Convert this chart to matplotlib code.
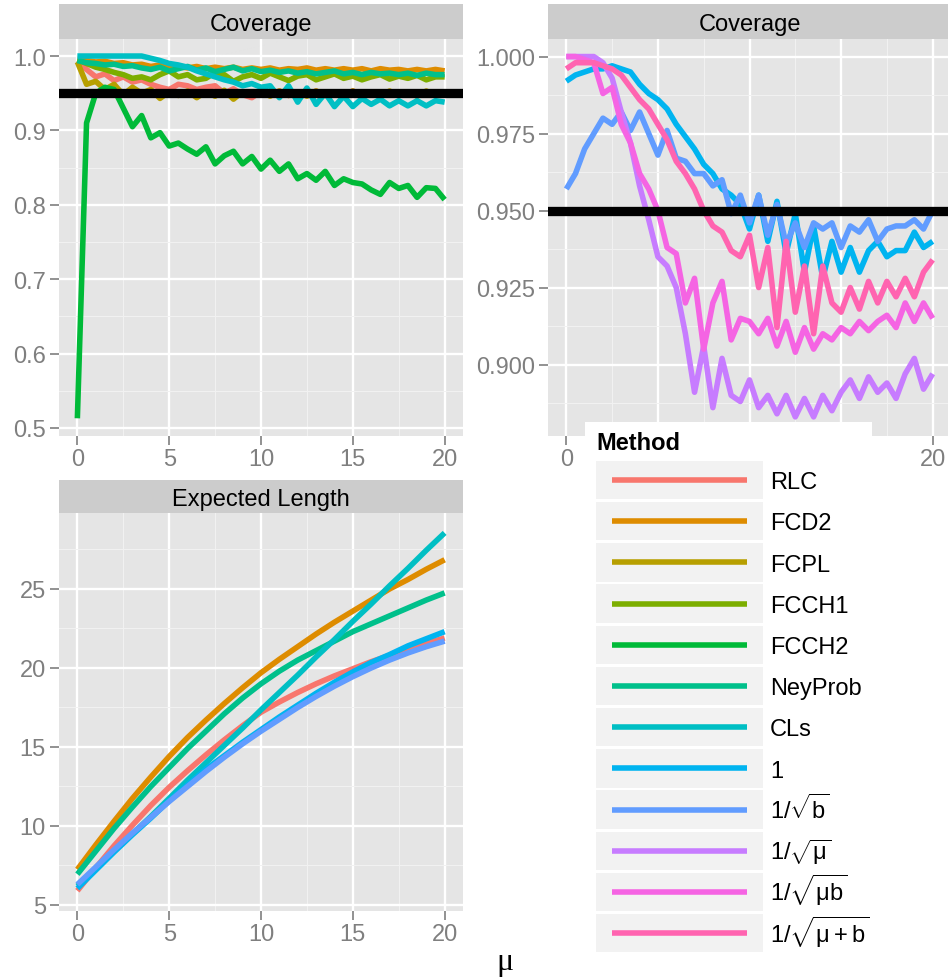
import numpy as np
import matplotlib
matplotlib.use("Agg")
import matplotlib.pyplot as plt
from matplotlib.ticker import MultipleLocator, FormatStrFormatter, FixedLocator, FixedFormatter
from matplotlib.patches import Rectangle
from matplotlib.lines import Line2D

plt.rcParams["font.family"] = ["Liberation Sans", "DejaVu Sans"]
plt.rcParams["mathtext.fontset"] = "custom"
plt.rcParams["mathtext.rm"] = "Liberation Sans"
plt.rcParams["mathtext.it"] = "Liberation Sans"
plt.rcParams["mathtext.bf"] = "Liberation Sans:bold"

# ---------------- data ----------------
methods = ["RLC", "FCD2", "FCPL", "FCCH1", "FCCH2", "NeyProb", "CLs",
           "1", "1/sqrt(b)", "1/sqrt(mu)", "1/sqrt(mu b)", "1/sqrt(mu+b)"]
method_labels = ["RLC", "FCD2", "FCPL", "FCCH1", "FCCH2", "NeyProb", "CLs", "1",
                 r"$1/\sqrt{\mathrm{b}}$", r"$1/\sqrt{\mu}$",
                 r"$1/\sqrt{\mu\mathrm{b}}$", r"$1/\sqrt{\mu+\mathrm{b}}$"]
colors = ["#F8766D", "#DE8C00", "#B79F00", "#7CAE00", "#00BA38", "#00C08B",
          "#00BFC4", "#00B4F0", "#619CFF", "#C77CFF", "#F564E3", "#FF64B0"]

mu_cov = np.linspace(0, 20, 41)
mu_len = np.linspace(0, 20, 21)
x_ticks = [0, 5, 10, 15, 20]

cov_RLC = [0.993, 0.982, 0.972, 0.976, 0.967, 0.972, 0.965, 0.968, 0.962, 0.958,
           0.955, 0.962, 0.960, 0.955, 0.958, 0.960, 0.950, 0.956, 0.948, 0.944,
           0.952, 0.948, 0.953, 0.947, 0.952, 0.948, 0.953, 0.947, 0.951, 0.948,
           0.953, 0.947, 0.951, 0.948, 0.952, 0.947, 0.951, 0.948, 0.952, 0.948,
           0.950]
cov_FCD2 = [0.996, 0.994, 0.992, 0.993, 0.990, 0.991, 0.988, 0.989, 0.986, 0.988,
            0.985, 0.986, 0.984, 0.986, 0.983, 0.985, 0.983, 0.985, 0.982, 0.984,
            0.982, 0.984, 0.981, 0.983, 0.982, 0.984, 0.981, 0.983, 0.981, 0.983,
            0.981, 0.983, 0.980, 0.983, 0.981, 0.982, 0.980, 0.982, 0.980, 0.982,
            0.980]
cov_FCPL = [0.992, 0.962, 0.966, 0.955, 0.962, 0.948, 0.958, 0.950, 0.955, 0.943,
            0.952, 0.947, 0.953, 0.944, 0.952, 0.946, 0.954, 0.942, 0.952, 0.948,
            0.953, 0.946, 0.953, 0.947, 0.952, 0.946, 0.953, 0.947, 0.952, 0.946,
            0.953, 0.947, 0.952, 0.946, 0.953, 0.947, 0.952, 0.946, 0.953, 0.947,
            0.950]
cov_FCCH1 = [0.995, 0.990, 0.985, 0.982, 0.978, 0.975, 0.970, 0.972, 0.968, 0.975,
             0.980, 0.972, 0.975, 0.968, 0.970, 0.978, 0.975, 0.966, 0.972, 0.975,
             0.970, 0.977, 0.972, 0.967, 0.973, 0.975, 0.968, 0.972, 0.976, 0.970,
             0.973, 0.968, 0.972, 0.975, 0.969, 0.973, 0.970, 0.974, 0.968, 0.972,
             0.972]
cov_FCCH2 = [0.513, 0.910, 0.950, 0.958, 0.955, 0.930, 0.905, 0.920, 0.890, 0.897,
             0.879, 0.883, 0.875, 0.868, 0.878, 0.855, 0.866, 0.872, 0.855, 0.865,
             0.848, 0.860, 0.845, 0.855, 0.835, 0.842, 0.833, 0.845, 0.826, 0.835,
             0.830, 0.828, 0.820, 0.814, 0.830, 0.822, 0.826, 0.810, 0.823, 0.822,
             0.807]
cov_NeyProb = [0.994, 0.991, 0.990, 0.988, 0.989, 0.986, 0.987, 0.984, 0.982, 0.985,
               0.980, 0.983, 0.986, 0.981, 0.984, 0.979, 0.982, 0.985, 0.980, 0.983,
               0.979, 0.981, 0.978, 0.980, 0.977, 0.979, 0.976, 0.978, 0.980, 0.976,
               0.978, 0.975, 0.978, 0.976, 0.977, 0.975, 0.977, 0.974, 0.977, 0.975,
               0.975]
cov_CLs = [1.000, 1.000, 1.000, 1.000, 1.000, 1.000, 1.000, 1.000, 0.997, 0.994,
           0.990, 0.988, 0.985, 0.980, 0.976, 0.972, 0.968, 0.965, 0.960, 0.963,
           0.958, 0.960, 0.944, 0.960, 0.938, 0.957, 0.935, 0.950, 0.932, 0.946,
           0.932, 0.943, 0.935, 0.942, 0.933, 0.940, 0.933, 0.940, 0.933, 0.940,
           0.938]
cov_one = [0.992, 0.994, 0.995, 0.996, 0.996, 0.997, 0.996, 0.995, 0.991, 0.988,
           0.986, 0.983, 0.978, 0.974, 0.970, 0.965, 0.962, 0.957, 0.955, 0.952,
           0.944, 0.955, 0.940, 0.953, 0.936, 0.949, 0.930, 0.945, 0.928, 0.940,
           0.930, 0.938, 0.930, 0.937, 0.940, 0.935, 0.937, 0.937, 0.943, 0.938,
           0.940]
cov_isb = [0.957, 0.962, 0.970, 0.975, 0.980, 0.978, 0.982, 0.976, 0.982, 0.975,
           0.968, 0.976, 0.967, 0.966, 0.962, 0.962, 0.958, 0.960, 0.949, 0.955,
           0.946, 0.955, 0.942, 0.952, 0.939, 0.946, 0.938, 0.946, 0.944, 0.946,
           0.938, 0.945, 0.943, 0.947, 0.940, 0.944, 0.945, 0.945, 0.947, 0.944,
           0.950]
cov_ism = [1.000, 1.000, 1.000, 1.000, 0.998, 0.993, 0.982, 0.972, 0.958, 0.947,
           0.935, 0.932, 0.925, 0.910, 0.891, 0.906, 0.886, 0.902, 0.890, 0.888,
           0.895, 0.886, 0.890, 0.884, 0.890, 0.883, 0.889, 0.883, 0.890, 0.885,
           0.891, 0.895, 0.889, 0.896, 0.891, 0.894, 0.889, 0.897, 0.902, 0.892,
           0.897]
cov_ismb = [1.000, 1.000, 0.999, 0.998, 0.988, 0.990, 0.978, 0.972, 0.962, 0.957,
            0.950, 0.938, 0.936, 0.920, 0.928, 0.905, 0.920, 0.927, 0.908, 0.915,
            0.914, 0.910, 0.915, 0.906, 0.914, 0.904, 0.912, 0.905, 0.910, 0.908,
            0.912, 0.910, 0.914, 0.911, 0.914, 0.916, 0.912, 0.920, 0.914, 0.920,
            0.915]
cov_ismpb = [0.996, 0.998, 0.998, 0.998, 0.997, 0.996, 0.994, 0.990, 0.986, 0.983,
             0.978, 0.973, 0.966, 0.962, 0.957, 0.950, 0.945, 0.943, 0.937, 0.935,
             0.942, 0.925, 0.938, 0.912, 0.940, 0.917, 0.932, 0.910, 0.932, 0.920,
             0.917, 0.925, 0.918, 0.927, 0.920, 0.927, 0.922, 0.928, 0.922, 0.930,
             0.934]

len_RLC = [5.9, 7.35, 8.75, 10.05, 11.3, 12.45, 13.5, 14.5, 15.45, 16.35, 17.2,
           17.85, 18.45, 19.0, 19.5, 19.95, 20.4, 20.8, 21.2, 21.55, 21.9]
len_FCD2 = [7.25, 8.8, 10.3, 11.75, 13.1, 14.4, 15.6, 16.7, 17.75, 18.75, 19.7,
            20.55, 21.35, 22.15, 22.9, 23.6, 24.3, 25.0, 25.6, 26.25, 26.85]
len_NeyProb = [6.95, 8.4, 9.85, 11.2, 12.5, 13.7, 14.9, 16.0, 17.1, 18.1, 19.0,
               19.8, 20.5, 21.1, 21.7, 22.3, 22.8, 23.3, 23.8, 24.3, 24.75]
len_CLs = [6.2, 7.3, 8.4, 9.5, 10.6, 11.75, 12.9, 14.0, 15.1, 16.2, 17.35,
           18.45, 19.55, 20.7, 21.8, 22.95, 24.05, 25.2, 26.3, 27.45, 28.55]
len_one = [6.05, 7.2, 8.35, 9.45, 10.5, 11.6, 12.6, 13.6, 14.45, 15.3, 16.1,
           16.9, 17.65, 18.4, 19.1, 19.75, 20.35, 20.85, 21.4, 21.85, 22.3]
len_isb = [6.3, 7.4, 8.5, 9.55, 10.55, 11.55, 12.5, 13.45, 14.35, 15.2, 16.0,
           16.75, 17.5, 18.2, 18.85, 19.45, 20.0, 20.5, 20.95, 21.35, 21.7]

target = 0.95

cov_left = {"RLC": cov_RLC, "FCD2": cov_FCD2, "FCPL": cov_FCPL, "FCCH1": cov_FCCH1,
            "FCCH2": cov_FCCH2, "NeyProb": cov_NeyProb, "CLs": cov_CLs}
cov_right = {"1": cov_one, "1/sqrt(b)": cov_isb, "1/sqrt(mu)": cov_ism,
             "1/sqrt(mu b)": cov_ismb, "1/sqrt(mu+b)": cov_ismpb}
lengths = {"RLC": len_RLC, "FCD2": len_FCD2, "NeyProb": len_NeyProb,
           "CLs": len_CLs, "1": len_one, "1/sqrt(b)": len_isb}
col = dict(zip(methods, colors))

# ---------------- layout ----------------
W, H = 948, 979
fig = plt.figure(figsize=(W / 100, H / 100), dpi=100)
fig.patch.set_facecolor("white")
GREY = "#7F7F7F"
LW = 4.0
FS = 17


def box(x0, y0, x1, y1):
    return [x0 / W, 1 - y1 / H, (x1 - x0) / W, (y1 - y0) / H]


def panel(rect, ylim, ymaj, ymin, yfmt):
    ax = fig.add_axes(box(*rect))
    ax.set_facecolor("#E5E5E5")
    for s in ax.spines.values():
        s.set_visible(False)
    ax.set_xlim(-1, 21)
    ax.set_ylim(*ylim)
    ax.xaxis.set_major_locator(FixedLocator(x_ticks))
    ax.xaxis.set_minor_locator(MultipleLocator(2.5))
    ax.yaxis.set_major_locator(MultipleLocator(ymaj))
    ax.yaxis.set_minor_locator(MultipleLocator(ymin))
    ax.yaxis.set_major_formatter(FormatStrFormatter(yfmt))
    ax.set_axisbelow(True)
    ax.grid(which="major", color="white", lw=1.7)
    ax.grid(which="minor", color="#F2F2F2", lw=0.7)
    ax.tick_params(which="major", direction="out", length=6.5, width=1.2,
                   color=GREY, labelcolor=GREY, labelsize=FS)
    ax.tick_params(axis="x", pad=2.5)
    ax.tick_params(axis="y", pad=3)
    ax.tick_params(which="minor", length=0)
    return ax


def strip(rect, text):
    sax = fig.add_axes(box(*rect))
    sax.set_facecolor("#CCCCCC")
    sax.set_xticks([])
    sax.set_yticks([])
    for s in sax.spines.values():
        s.set_visible(False)
    sax.text(0.5, 0.25, text, ha="center", va="baseline", fontsize=FS,
             color="black", transform=sax.transAxes)


# top-left coverage
ax1 = panel((59, 40, 463, 437), (0.4892, 1.0229), 0.1, 0.05, "%.1f")
strip((59, 5, 463, 40), "Coverage")
for m, v in cov_left.items():
    ax1.plot(mu_cov, v, color=col[m], lw=LW, solid_joinstyle="round",
             solid_capstyle="butt")
ax1.axhline(target, color="black", lw=6.7)

# top-right coverage (labels 5, 10, 15 are hidden under the legend box)
ax2 = panel((548, 40, 951, 437), (0.8768, 1.0057), 0.025, 0.0125, "%.3f")
ax2.xaxis.set_major_formatter(FixedFormatter(["0", "", "", "", "20"]))
strip((548, 5, 951, 40), "Coverage")
for m, v in cov_right.items():
    ax2.plot(mu_cov, v, color=col[m], lw=LW, solid_joinstyle="round",
             solid_capstyle="butt")
ax2.axhline(target, color="black", lw=6.7)

# bottom-left expected length
ax3 = panel((59, 514, 463, 912), (4.62, 29.81), 5, 2.5, "%d")
strip((59, 481, 463, 514), "Expected Length")
for m, v in lengths.items():
    ax3.plot(mu_len, v, color=col[m], lw=LW, solid_joinstyle="round",
             solid_capstyle="butt")

fig.text(505 / W, 1 - 970 / H, "\u03bc", ha="center", va="baseline",
         fontsize=23, family=["Liberation Serif", "DejaVu Serif"])

# legend (drawn in its own axes, in pixel units)
lx0, ly0, lx1, ly1 = 585, 423, 872, 975
lax = fig.add_axes(box(lx0, ly0, lx1, ly1))
lax.set_zorder(10)
lax.set_facecolor("white")
lax.set_xlim(lx0, lx1)
lax.set_ylim(ly1, ly0)
lax.set_xticks([])
lax.set_yticks([])
for s in lax.spines.values():
    s.set_visible(False)
lax.text(596, 450, "Method", fontsize=FS, fontweight="bold", va="baseline",
         ha="left")
pitch = 41.2
for i, (m, lab) in enumerate(zip(methods, method_labels)):
    yc = 481 + i * pitch
    lax.add_patch(Rectangle((596, yc - 19.2), 167, 38.4, facecolor="#F2F2F2",
                            edgecolor="none"))
    lax.add_line(Line2D([612, 747], [yc, yc], color=col[m], lw=LW,
                        solid_capstyle="butt"))
    lax.text(770, yc + 8.3, lab, fontsize=FS, va="baseline", ha="left")

fig.savefig("out.png", dpi=100, facecolor="white")
